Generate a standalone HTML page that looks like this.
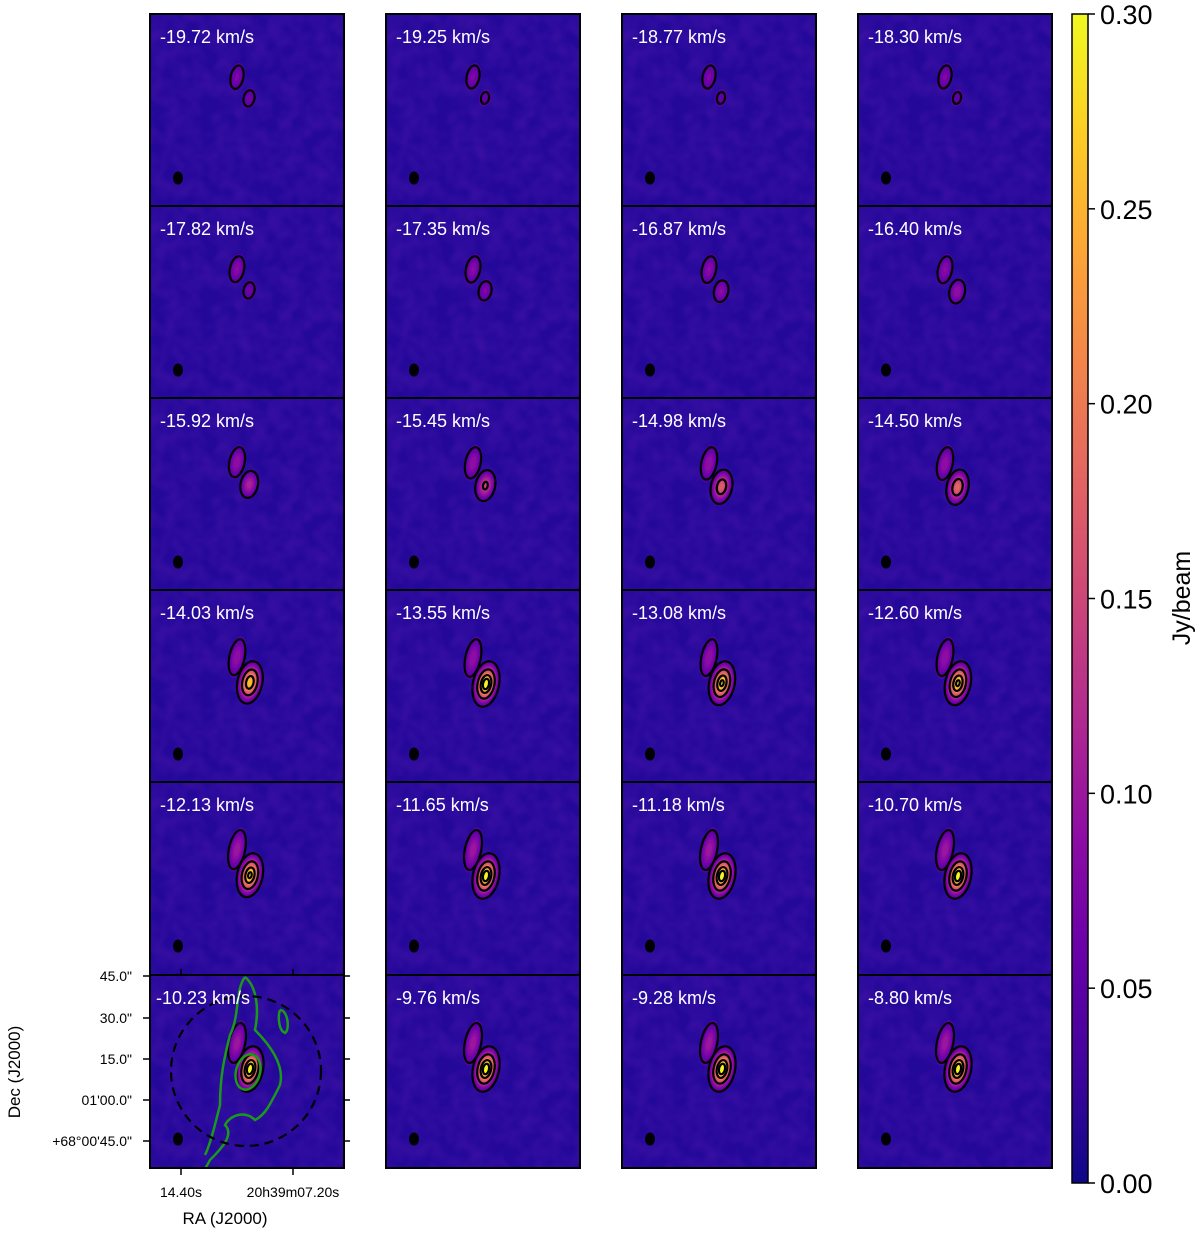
<!DOCTYPE html>
<html><head><meta charset="utf-8"><style>
body{margin:0;background:#fff;width:1200px;height:1235px;overflow:hidden}
svg{display:block;font-family:"Liberation Sans",sans-serif}
</style></head><body>
<svg id="fig" width="1200" height="1235" viewBox="0 0 1200 1235">
<defs>
<linearGradient id="cbg" x1="0" y1="1" x2="0" y2="0">
<stop offset="0" stop-color="#0d0887"/><stop offset="0.1" stop-color="#41049d"/><stop offset="0.2" stop-color="#6a00a8"/><stop offset="0.3" stop-color="#8f0da4"/><stop offset="0.4" stop-color="#b12a90"/><stop offset="0.5" stop-color="#cc4778"/><stop offset="0.6" stop-color="#e16462"/><stop offset="0.7" stop-color="#f2844b"/><stop offset="0.8" stop-color="#fca636"/><stop offset="0.9" stop-color="#fcce25"/><stop offset="1" stop-color="#f0f921"/>
</linearGradient>
<filter id="noise" x="0" y="0" width="100%" height="100%"><feTurbulence type="fractalNoise" baseFrequency="0.06" numOctaves="2" seed="3"/><feColorMatrix values="0 0 0 0 0.5  0 0 0 0 0.05  0 0 0 0 0.7  0 0 0 0.25 -0.08"/></filter>
</defs>
<g id="panels"></g>
<g id="cbar"></g>
</svg>
<script>
const velocities=["-19.72","-19.25","-18.77","-18.30","-17.82","-17.35","-16.87","-16.40","-15.92","-15.45","-14.98","-14.50","-14.03","-13.55","-13.08","-12.60","-12.13","-11.65","-11.18","-10.70","-10.23","-9.76","-9.28","-8.80"];
const southPeak=[0.06,0.05,0.05,0.05,0.06,0.07,0.08,0.09,0.11,0.14,0.17,0.18,0.26,0.30,0.28,0.28,0.28,0.30,0.30,0.30,0.30,0.30,0.30,0.30];
const northPeak=[0.07,0.07,0.07,0.07,0.08,0.08,0.08,0.08,0.09,0.09,0.09,0.09,0.09,0.09,0.09,0.09,0.10,0.10,0.10,0.10,0.10,0.10,0.10,0.10];
const cbTicks=["0.00","0.05","0.10","0.15","0.20","0.25","0.30"];
const cbValues=[0,0.05,0.10,0.15,0.20,0.25,0.30];
const contourLevels=[0.04,0.13,0.22,0.27];

const NS="http://www.w3.org/2000/svg";
const vmax=0.30, cbTop=14, cbBot=1183;
const yCb=v=>cbBot-(v/vmax)*(cbBot-cbTop);
const stops=["#0d0887","#41049d","#6a00a8","#8f0da4","#b12a90","#cc4778","#e16462","#f2844b","#fca636","#fcce25","#f0f921"];
function hex(h){return [1,3,5].map(i=>parseInt(h.substr(i,2),16));}
function plasma(v){let t=Math.max(0,Math.min(1,v/vmax))*10;let i=Math.min(9,Math.floor(t));let f=t-i;let a=hex(stops[i]),b=hex(stops[i+1]);return "rgb("+a.map((x,k)=>Math.round(x+(b[k]-x)*f)).join(",")+")";}
function el(tag,attrs,parent){const e=document.createElementNS(NS,tag);for(const k in attrs)e.setAttribute(k,attrs[k]);parent.appendChild(e);return e;}
const colX=[150,386,622,858], rowY=[14,206,398,590,782,975], PW=194, PH=193;
const panels=document.getElementById('panels');
function blob(g,cx,cy,sx,sy,peak,rot){
  for(let v=0.03;v<peak;v+=0.012){
    const r=Math.sqrt(2*Math.log(peak/v));
    const e=el('ellipse',{cx:cx,cy:cy,rx:sx*r,ry:sy*r,fill:plasma(v+0.01),transform:`rotate(${rot} ${cx} ${cy})`},g);
    
    
  }
  contourLevels.forEach(L=>{if(L<peak){const r=Math.sqrt(2*Math.log(peak/L));
    const e=el('ellipse',{cx:cx,cy:cy,rx:sx*r,ry:sy*r,fill:'none',stroke:'#000','stroke-width':2.2,transform:`rotate(${rot} ${cx} ${cy})`},g);
    
    }});
}
velocities.forEach((v,i)=>{
  const c=i%4,r=Math.floor(i/4),x0=colX[c],y0=rowY[r];
  const g=el('g',{transform:`translate(${x0},${y0})`},panels);
  
  
  const cp=el('clipPath',{id:'cp'+i},g);el('rect',{x:0,y:0,width:PW,height:PH},cp);
  const inner=el('g',{'clip-path':`url(#cp${i})`},g);
  el('rect',{x:0,y:0,width:PW,height:PH,fill:'#24089a'},inner);
  el('rect',{x:0,y:0,width:PW,height:PH,filter:'url(#noise)'},inner);
  const sp=southPeak[i], np=northPeak[i];
  const shift=Math.min(1,(sp-0.05)/0.25);
  blob(inner,87,63+shift*5,6,11+shift*4,np,12);
  blob(inner,99+shift*1,84+shift*10,6+shift*0.5,9+shift*2.5,sp,12);
  const b=el('ellipse',{cx:28,cy:164,rx:5,ry:6.5,fill:'#000'},inner);
  
  
  if(i===20){
    const gp=el('path',{d:"M95,2 C105,10 110,30 105,55 C120,70 135,90 130,110 C120,130 115,140 105,145 C95,135 80,140 75,150 C85,160 70,175 60,185 C55,195 50,200 45,200 M95,2 C85,15 90,40 80,60 C75,80 70,100 70,130 C65,150 60,170 55,180",fill:'none',stroke:'#1a9a1a','stroke-width':2.5},inner);
    
    
    el('path',{d:"M130,35 C138,35 140,55 135,58 C128,55 128,40 130,35",fill:'none',stroke:'#1a9a1a','stroke-width':2.5},inner);
    el('ellipse',{cx:98,cy:97,rx:12,ry:18,fill:'none',stroke:'#1a9a1a','stroke-width':2.5,transform:'rotate(15 98 97)'},inner);
    const dc=el('circle',{cx:96,cy:96,r:75,fill:'none',stroke:'#000','stroke-width':2.2,'stroke-dasharray':'9,6'},inner);
    
    
  }
  el('rect',{x:0,y:0,width:PW,height:PH,fill:'none',stroke:'#000','stroke-width':2},g);
  const t=el('text',{x:i===20?6:10,y:29,fill:'#fff','font-size':18},g);
  t.textContent=v+" km/s";
  
  
});
const ax=el('g',{},panels);


const decLab=['45.0"','30.0"','15.0"','01\'00.0"','+68°00\'45.0"'], decY=[976,1018,1059,1100,1141];
decLab.forEach((l,k)=>{el('line',{x1:143,x2:150,y1:decY[k],y2:decY[k],stroke:'#000','stroke-width':1.5},ax);
  el('line',{x1:344,x2:350,y1:decY[k],y2:decY[k],stroke:'#000','stroke-width':1.5},ax);
  const t=el('text',{x:132,y:decY[k]+5,'font-size':14,'text-anchor':'end'},ax);t.textContent=l;
  
  });
[[181,'14.40s'],[293,'20h39m07.20s']].forEach(([x,l])=>{el('line',{x1:x,x2:x,y1:1168,y2:1175,stroke:'#000','stroke-width':1.5},ax);
  el('line',{x1:x,x2:x,y1:969,y2:975,stroke:'#000','stroke-width':1.5},ax);
  const t=el('text',{x:x,y:1197,'font-size':14,'text-anchor':'middle'},ax);t.textContent=l;
  
  });
let t=el('text',{x:225,y:1224,'font-size':17,'text-anchor':'middle'},ax);t.textContent='RA (J2000)';

t=el('text',{x:0,y:0,'font-size':17,'text-anchor':'middle',transform:'translate(20,1072) rotate(-90)'},ax);t.textContent='Dec (J2000)';

const cb=document.getElementById('cbar');
const bar=el('rect',{x:1072,y:cbTop,width:16,height:cbBot-cbTop,fill:'url(#cbg)',stroke:'#000','stroke-width':1.5},cb);

cbValues.forEach((v,k)=>{const y=yCb(v);el('line',{x1:1088,x2:1095,y1:y,y2:y,stroke:'#000','stroke-width':1.5},cb);
  const tt=el('text',{x:1100,y:y+10,'font-size':27},cb);tt.textContent=cbTicks[k];
  });
t=el('text',{x:0,y:0,'font-size':25,'text-anchor':'middle',transform:'translate(1190,598) rotate(-90)'},cb);t.textContent='Jy/beam';

</script>
</body></html>
